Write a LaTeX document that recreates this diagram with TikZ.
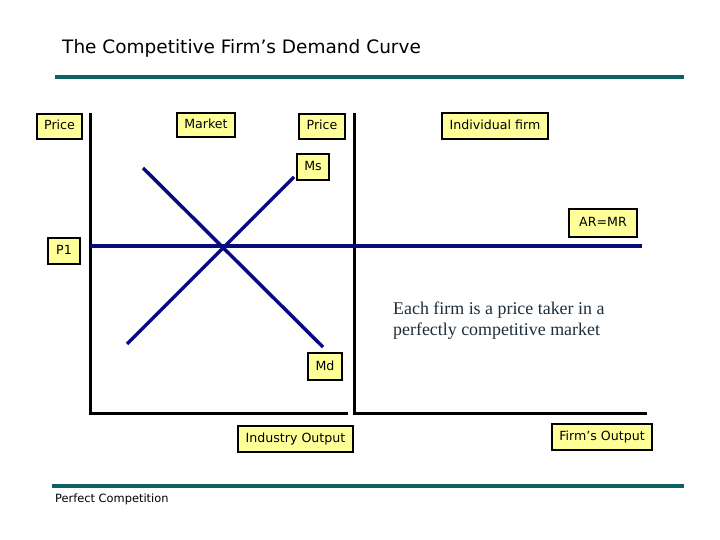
\documentclass[tikz,border=0pt]{standalone}
\usepackage{fontspec}
\setmainfont{Liberation Serif}
\newfontfamily\tah{DejaVu Sans}
\definecolor{teal1}{HTML}{0F6262}
\definecolor{navy1}{HTML}{0A0A80}
\definecolor{lbl}{HTML}{FFFF99}
\definecolor{txtc}{HTML}{1C2E3C}
\tikzset{
  lab/.style={draw=black, line width=1.5pt, fill=lbl, inner sep=0pt, font=\tah\fontsize{12.6}{14}\selectfont, text height=9.5pt, text depth=2.5pt},
  ax/.style={line width=3pt, black},
  curve/.style={line width=3.5pt, navy1},
  bar/.style={line width=4.5pt, teal1}
}
\begin{document}
\begin{tikzpicture}[x=1pt,y=-1pt]
\useasboundingbox[fill=white] (0,0) rectangle (720,540);
% title and bars
\node[anchor=west, font=\tah\fontsize{18.5}{22}\selectfont, inner sep=0pt] (title) at (62,48) {The Competitive Firm’s Demand Curve};
\coordinate (tb1) at (55,77); \coordinate (tb2) at (684,77);
\draw[bar] (tb1) -- (tb2);
\coordinate (bb1) at (52,486); \coordinate (bb2) at (684,486);
\draw[bar, line width=4pt] (bb1) -- (bb2);
\node[anchor=west, font=\tah\fontsize{11.4}{13}\selectfont, inner sep=0pt] (foot) at (55,499) {Perfect Competition};
% axes
\coordinate (lo1) at (90,113); \coordinate (lo2) at (90,413); \coordinate (lo3) at (348,413);
\draw[ax] (lo1) -- (lo2) -- (lo3);
\coordinate (ro1) at (354,113); \coordinate (ro2) at (354,413); \coordinate (ro3) at (647,413);
\draw[ax] (ro1) -- (ro2) -- (ro3);
% curves
\coordinate (p1a) at (90,246); \coordinate (p1b) at (642,246);
\draw[curve] (p1a) -- (p1b);
\coordinate (d1) at (143,168); \coordinate (d2) at (323,347);
\draw[curve] (d1) -- (d2);
\coordinate (s1) at (127,344); \coordinate (s2) at (294,177);
\draw[curve] (s1) -- (s2);
% labels
\node[lab, minimum width=45pt, minimum height=25pt] (price1) at (59.5,126.5) {Price};
\node[lab, minimum width=58pt, minimum height=24pt] (market) at (206,125) {Market};
\node[lab, minimum width=46pt, minimum height=25pt] (price2) at (322,126.5) {Price};
\node[lab, minimum width=106pt, minimum height=26pt] (indiv) at (495,126) {Individual firm};
\node[lab, minimum width=32pt, minimum height=26pt] (ms) at (313,167) {Ms};
\node[lab, minimum width=68pt, minimum height=28pt] (armr) at (603,223) {AR=MR};
\node[lab, minimum width=32pt, minimum height=26pt] (p1) at (64,251) {P1};
\node[lab, minimum width=34pt, minimum height=27pt] (md) at (325,366.5) {Md};
\node[lab, minimum width=115pt, minimum height=26pt] (indout) at (295.5,439) {Industry Output};
\node[lab, minimum width=100pt, minimum height=26pt] (firmout) at (602,437) {Firm’s Output};
% text
\node[anchor=north west, align=left, inner sep=0pt, text=txtc, font=\fontsize{17.9}{21}\selectfont] (note) at (393,302) {Each firm is a price taker in a\\perfectly competitive market};
\end{tikzpicture}
\end{document}
